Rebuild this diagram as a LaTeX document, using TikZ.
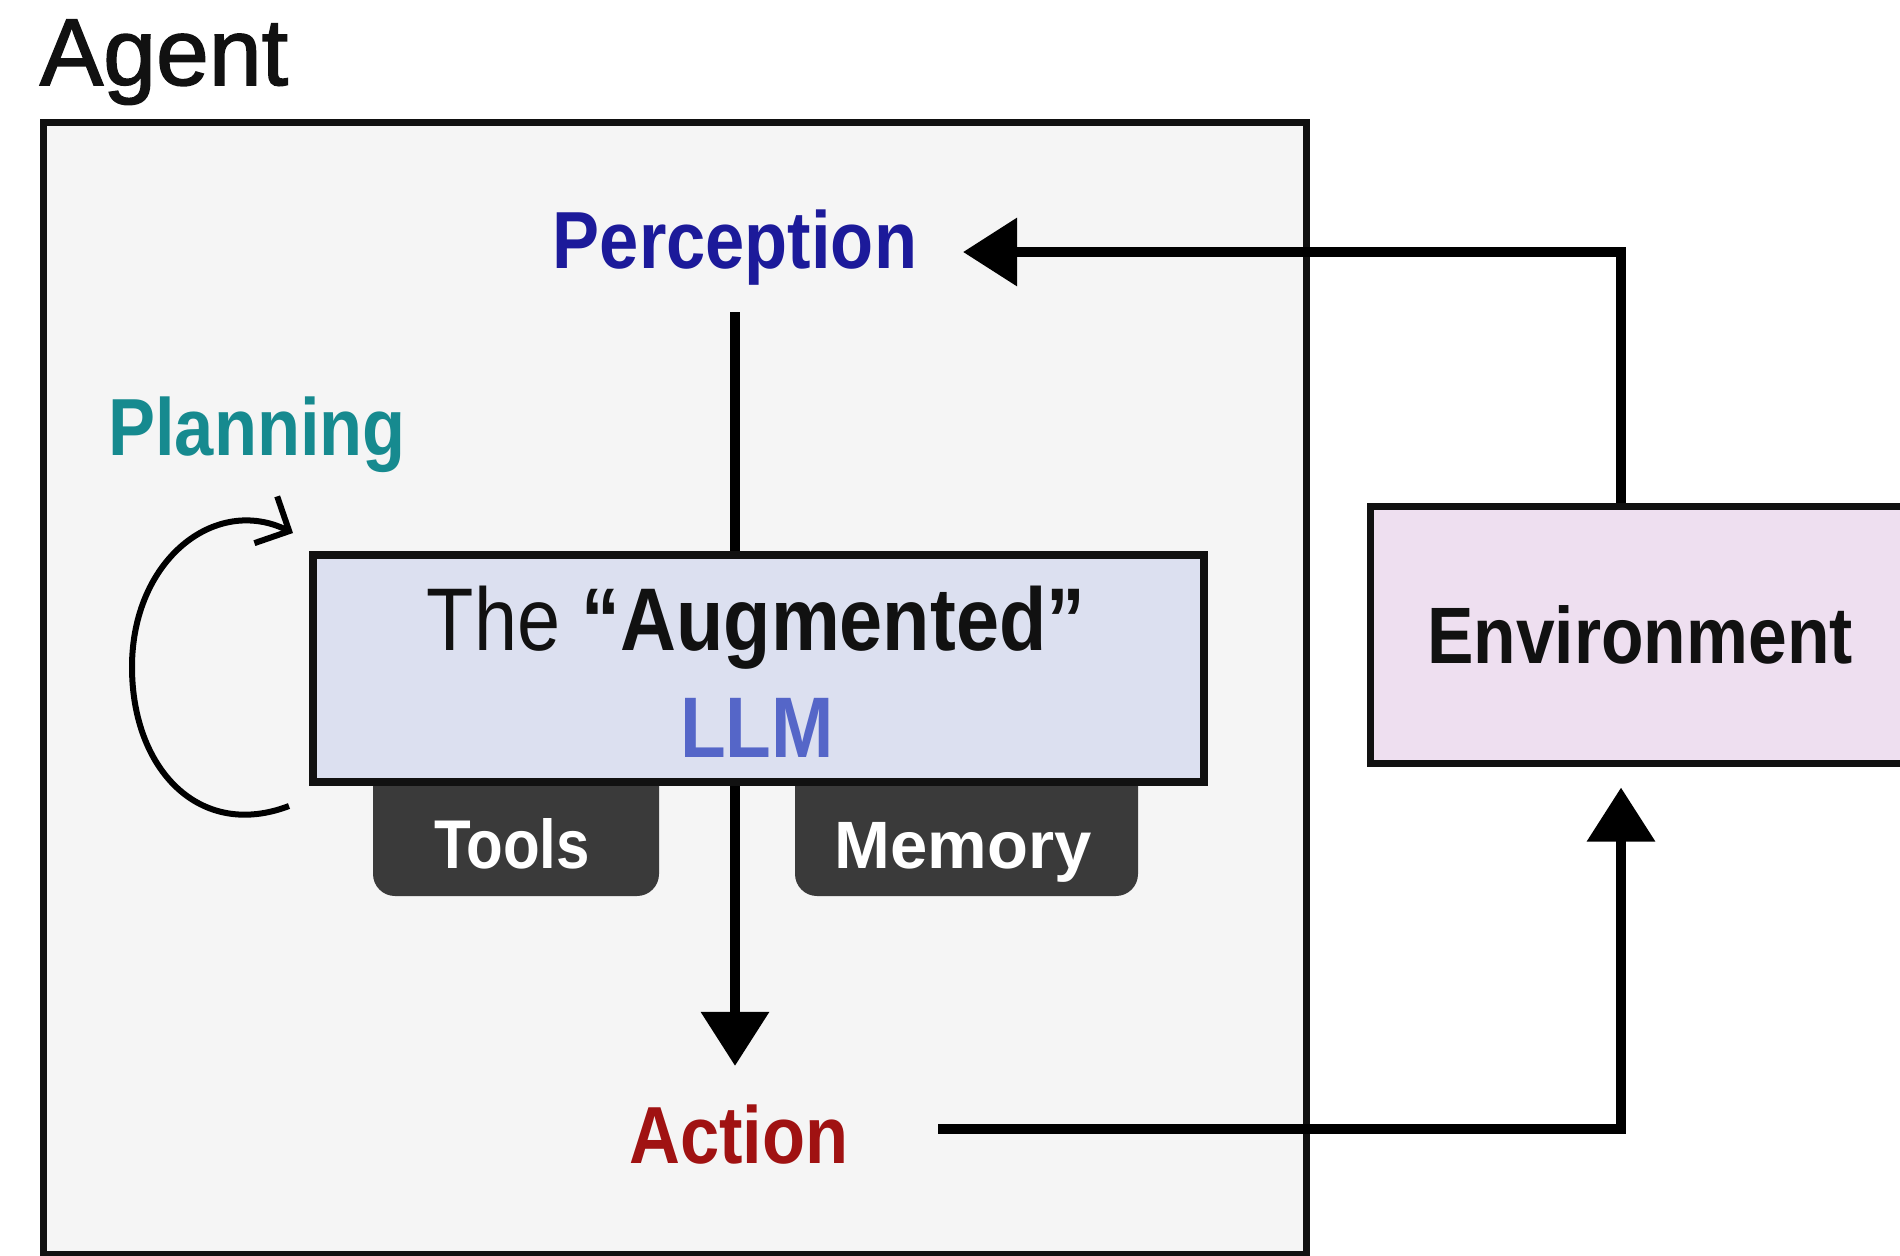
\documentclass[tikz,border=0pt]{standalone}
\usepackage{fontspec}
\setmainfont{Liberation Sans}
\newfontfamily\cond[FakeStretch=0.87]{Liberation Sans}
\newfontfamily\medium[FakeBold=1.6]{Liberation Sans}
\usetikzlibrary{arrows.meta}

\definecolor{agentbg}{HTML}{F5F5F5}
\definecolor{llmbg}{HTML}{DCE0F0}
\definecolor{envbg}{HTML}{EEDFF0}
\definecolor{tabgray}{HTML}{3A3A3A}
\definecolor{percblue}{HTML}{1C1A9A}
\definecolor{planteal}{HTML}{168A8F}
\definecolor{llmblue}{HTML}{5566C8}
\definecolor{actred}{HTML}{A01212}
\definecolor{inkblack}{HTML}{111111}

\newcommand\fsz[1]{\fontsize{#1}{#1}\selectfont}

\begin{document}
\begin{tikzpicture}[
  x=0.5pt, y=-0.5pt,
  lbl/.style={inner sep=0pt, anchor=base},
  framebox/.style={draw=inkblack, line width=3.5pt, inner sep=0pt},
  tab/.style={fill=tabgray, rounded corners=11pt, inner sep=0pt},
  conn/.style={draw=black, line width=5pt},
  arr/.style={conn, -{Triangle[length=27pt,width=33pt]}},
  planloop/.style={draw=black, line width=3pt,
    -{Straight Barb[length=13pt,width=26pt,line width=3pt]}},
]
\clip (0,0) rectangle (1900,1255);
\fill[white] (0,0) rectangle (1900,1255);

% agent frame and title
\node[framebox, fill=agentbg, minimum width=631.5pt, minimum height=566pt] (agent) at (674.5,688) {};
\node[lbl, font=\medium\fsz{47.5pt}, text=inkblack] (agentlbl) at (164,85) {Agent};

% environment
\node[framebox, fill=envbg, minimum width=270pt, minimum height=128.5pt,
      font=\cond\bfseries\fsz{40pt}, text=inkblack] (env) at (1640,634.5) {Environment};

% tool and memory tabs under the LLM box
\node[tab, minimum width=143pt, minimum height=78pt] (tooltab) at (516,818) {};
\node[tab, minimum width=171.5pt, minimum height=78pt] (memtab) at (966.5,818) {};

% the augmented LLM
\node[framebox, line width=4pt, fill=llmbg, minimum width=445.5pt, minimum height=113.5pt] (llm) at (758.5,668.5) {};
\node[lbl, font=\cond\fsz{44.5pt}, text=inkblack] (aug) at (756,650) {The \textbf{“Augmented”}};
\node[lbl, font=\cond\bfseries\fsz{43pt}, text=llmblue] (llmtxt) at (757,757) {LLM};
\node[lbl, font=\cond\bfseries\fsz{34.5pt}, text=white] (tools) at (512,868) {Tools};
\node[lbl, font=\bfseries\fsz{33.5pt}, text=white] (memory) at (963,868) {Memory};

% labels
\node[lbl, font=\cond\bfseries\fsz{40.5pt}, text=percblue] (perc) at (735,268) {Perception};
\node[lbl, font=\cond\bfseries\fsz{40.5pt}, text=planteal] (plan) at (257,455) {Planning};
\node[lbl, font=\cond\bfseries\fsz{40.5pt}, text=actred] (act) at (739,1163) {Action};

% connector end points
\coordinate (percin) at (963,252);
\coordinate (actout) at (938,1129);
\coordinate (acttop) at ([yshift=19pt]act.north);
\coordinate (loopstart) at ([xshift=-10pt,yshift=-10pt]llm.south west);
\coordinate (loopend) at ([xshift=-8pt,yshift=9pt]llm.north west);

% connectors
\draw[arr] ([xshift=-9.5pt]env.north) |- (percin);
\draw[conn] ([yshift=-13.5pt]perc.south) -- (perc.south |- llm.north);
\draw[arr] (llm.south -| perc.south) -- (acttop -| perc.south);
\draw[arr] (actout) -| ([xshift=-9.5pt,yshift=-10.5pt]env.south);
\draw[planloop] (loopstart) .. controls (200,840) and (132,770) .. (132,667)
  .. controls (132,560) and (215,495) .. (loopend);
\end{tikzpicture}
\end{document}
